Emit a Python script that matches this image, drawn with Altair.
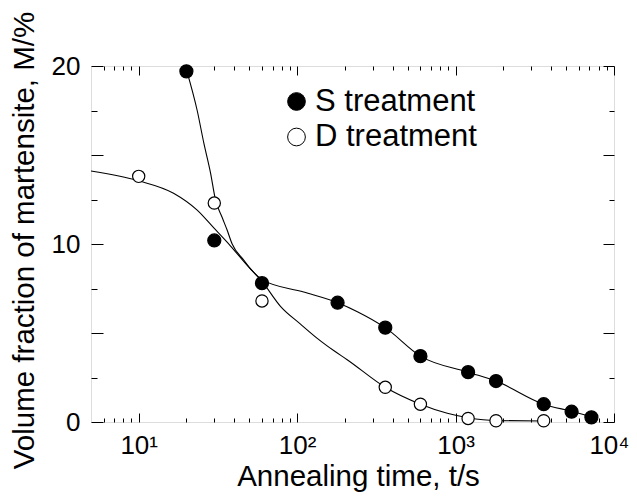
import altair as alt
import pandas as pd

# ---- measured points ----
s_time = [20, 30, 60, 180, 360, 600, 1200, 1800, 3600, 5400, 7200]
s_frac = [19.7, 10.2, 7.8, 6.7, 5.3, 3.7, 2.8, 2.3, 1.0, 0.58, 0.26]
d_time = [10, 30, 60, 360, 600, 1200, 1800, 3600]
d_frac = [13.8, 12.3, 6.8, 1.95, 1.0, 0.2, 0.07, 0.07]

# ---- fitted curves ----
s_curve_time = [20, 23.4, 25.8, 28.4, 30.5, 33.6, 36.1, 38.9, 46, 52, 60, 110, 180, 240, 360, 600, 1200, 1800, 3600, 5400, 7200]
s_curve_frac = [19.8, 17.5, 15.65, 14.0, 12.5, 11.5, 10.8, 10.0, 9.1, 8.5, 8.0, 7.3, 6.7, 6.2, 5.3, 3.7, 2.8, 2.3, 1.0, 0.6, 0.3]
d_curve_time = [5, 10, 16.6, 23.4, 29.8, 37.9, 48.4, 60, 78.5, 105, 134, 171, 207, 360, 600, 887, 1200, 1800, 3600]
d_curve_frac = [14.1, 13.55, 12.85, 11.9, 10.9, 9.9, 8.8, 7.9, 6.5, 5.5, 4.7, 4.0, 3.5, 1.95, 1.0, 0.49, 0.24, 0.08, 0.06]

series_names = ["S treatment", "D treatment"]

# ---- axis ticks / labels ----
x_major = [10, 100, 1000, 10000]
x_tick_labels = ["10¹", "10²", "10³", "10⁴"]
x_minor = [6, 7, 8, 9, 20, 30, 40, 50, 60, 70, 80, 90,
           200, 300, 400, 500, 600, 700, 800, 900,
           2000, 3000, 4000, 5000, 6000, 7000, 8000, 9000]
y_labels = [0, 10, 20]
y_major = [0, 5, 10, 15, 20]
y_minor = [2.5, 7.5, 12.5, 17.5]

W, H = 523, 356
FONT = "Liberation Sans"

s_pts = pd.DataFrame({"t": s_time, "m": s_frac, "treatment": series_names[0]})
d_pts = pd.DataFrame({"t": d_time, "m": d_frac, "treatment": series_names[1]})
s_cur = pd.DataFrame({"t": s_curve_time, "m": s_curve_frac})
d_cur = pd.DataFrame({"t": d_curve_time, "m": d_curve_frac})

xs = alt.Scale(type="log", domain=[5, 10000], nice=False)
ys = alt.Scale(domain=[0, 20], nice=False, zero=False)

label_expr = "".join(f"datum.value == {v} ? '{l}' : " for v, l in zip(x_major, x_tick_labels)) + "''"

common = dict(grid=False, domain=False)


def tick_axis(orient, offset, values, size):
    return alt.Axis(orient=orient, offset=offset, values=values, tickSize=size,
                    labels=False, ticks=True, tickColor="black", tickWidth=1,
                    title="", **common)


x_label_axis = alt.Axis(orient="bottom", values=x_major, labelExpr=label_expr, ticks=False,
                        labelFont=FONT, labelFontSize=26, labelColor="black",
                        labelPadding=31, labelBaseline="alphabetic",
                        labelFlush=1, labelFlushOffset=15,
                        title="Annealing time, t/s", titleFont=FONT, titleFontSize=29.5,
                        titleFontWeight="normal", titleColor="black",
                        titleX=267, titleY=63, titleAlign="center", titleBaseline="alphabetic",
                        **common)
y_label_axis = alt.Axis(orient="left", values=y_labels, ticks=False,
                        labelFont=FONT, labelFontSize=26, labelColor="black",
                        labelPadding=11, labelBaseline="middle", labelFlush=False,
                        title="Volume fraction of martensite, M/%", titleFont=FONT,
                        titleFontSize=29.5, titleFontWeight="normal", titleColor="black",
                        titleAngle=270, titleX=-58, titleY=174, titleAlign="center",
                        titleBaseline="alphabetic", **common)

line_s = alt.Chart(s_cur).mark_line(color="black", strokeWidth=1.1, interpolate="monotone").encode(
    x=alt.X("t:Q", scale=xs, axis=x_label_axis),
    y=alt.Y("m:Q", scale=ys, axis=y_label_axis),
)
line_d = alt.Chart(d_cur).mark_line(color="black", strokeWidth=1.1, interpolate="monotone").encode(
    x=alt.X("t:Q", scale=xs, axis=tick_axis("top", -H, x_major, 9)),
    y=alt.Y("m:Q", scale=ys, axis=tick_axis("right", -W, y_major, 12)),
)

fill_enc = alt.Fill("treatment:N",
                    scale=alt.Scale(domain=series_names, range=["black", "white"]),
                    legend=alt.Legend(orient="none", legendX=190, legendY=20, title=None,
                                      labelFont=FONT, labelFontSize=31, labelColor="black",
                                      labelLimit=400,
                                      symbolType="circle", symbolSize=314,
                                      symbolStrokeColor="black", symbolStrokeWidth=1,
                                      labelOffset=3, rowPadding=3.5, padding=0))

pts_s = alt.Chart(s_pts).mark_circle(size=170, stroke="black", strokeWidth=1.2, opacity=1).encode(
    x=alt.X("t:Q", scale=xs, axis=tick_axis("top", -H, x_minor, 4)),
    y=alt.Y("m:Q", scale=ys, axis=tick_axis("right", -W, y_minor, 6)),
    fill=fill_enc,
)
pts_d = alt.Chart(d_pts).mark_circle(size=150, stroke="black", strokeWidth=1.2, opacity=1).encode(
    x=alt.X("t:Q", scale=xs, axis=tick_axis("bottom", -H, x_major, 9)),
    y=alt.Y("m:Q", scale=ys, axis=tick_axis("left", -W, y_major, 11)),
    fill=fill_enc,
)
ghost = alt.Chart(s_cur).mark_point(opacity=0).encode(
    x=alt.X("t:Q", scale=xs, axis=tick_axis("bottom", -H, x_minor, 4)),
    y=alt.Y("m:Q", scale=ys, axis=tick_axis("left", -W, y_minor, 5)),
)

chart = alt.layer(line_s, line_d, pts_s, pts_d, ghost).resolve_axis(
    x="independent", y="independent"
).properties(
    width=W, height=H, autosize="none",
    padding={"left": 83, "top": 58, "right": 15, "bottom": 74},
).configure_view(stroke="black", strokeWidth=1.3).configure(background="white")

chart.save("out.html", embed_options={"renderer": "svg", "actions": False})
